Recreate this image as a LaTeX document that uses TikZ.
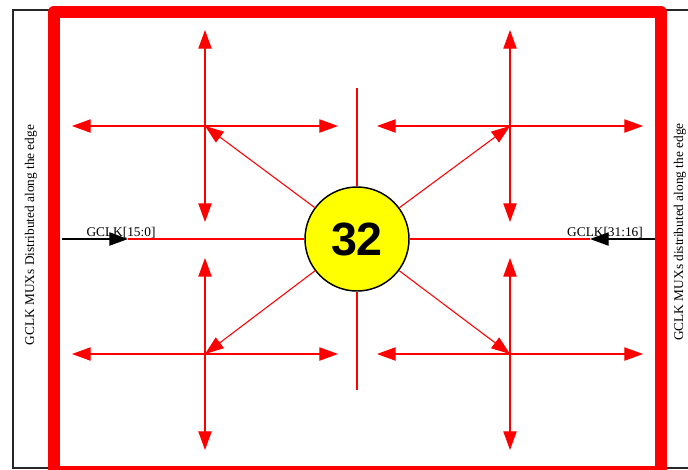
\documentclass[tikz,border=0pt]{standalone}
\usepackage{fontspec}
\setmainfont{Liberation Serif}
\newfontfamily\hubfont{Liberation Sans}
\usetikzlibrary{arrows.meta,calc}
\definecolor{signal}{RGB}{255,0,0}
\definecolor{hubfill}{RGB}{255,255,0}
\definecolor{ink}{RGB}{0,0,0}
\tikzset{
  >={Triangle[length=14pt,width=10pt]},
  frame/.style={draw=ink!85,line width=0.9pt},
  border/.style={draw=signal,line width=9pt,line join=round},
  wire/.style={draw=signal,line width=0.8pt},
  feed/.style={wire,->},
  spread/.style={wire,<->},
  clk/.style={->,draw=ink,line width=0.8pt},
  hub/.style={circle,draw=ink,fill=hubfill,line width=1.1pt,minimum size=78pt,
    inner sep=0pt,font=\hubfont\bfseries\fontsize{35}{35}\selectfont},
  tag/.style={font=\fontsize{10}{12}\selectfont,inner sep=0pt},
  side/.style={tag,rotate=90},
}
\begin{document}
\begin{tikzpicture}[x=0.75pt,y=-0.75pt]
  \useasboundingbox (0,0) rectangle (688,469);
  % page frame and chip edge
  \draw[frame] (688,10) -- (13,10) -- (13,468) -- (688,468);
  \draw[border] (53.5,12) rectangle (661,472);
  \node[side] (muxL) at (31,235) {GCLK MUXs Distributed along the edge};
  \node[side] (muxR) at (680,232) {GCLK MUXs distributed along the edge};
  % spine
  \node[hub] (hub) at (357,239) {32};
  \coordinate (spineN) at (357,88);
  \coordinate (spineS) at (357,390);
  \coordinate (inL) at (128,239);
  \coordinate (inR) at (590,239);
  \coordinate (srcL) at (62,239);
  \coordinate (srcR) at (655,239);
  \draw[wire] (hub.north) -- (spineN);
  \draw[wire] (hub.south) -- (spineS);
  \draw[wire] (hub.west) -- (inL);
  \draw[wire] (hub.east) -- (inR);
  % quadrant trees
  \foreach \q/\x/\y in {tl/205/126,tr/510/126,bl/205/354,br/510/354}{
    \coordinate (\q) at (\x,\y);
    \coordinate (\q-w) at ($(\q)+(-133,0)$);
    \coordinate (\q-e) at ($(\q)+(133,0)$);
    \coordinate (\q-n) at ($(\q)+(0,-96)$);
    \coordinate (\q-s) at ($(\q)+(0,96)$);
    \draw[spread] (\q-w) -- (\q-e);
    \draw[spread] (\q-n) -- (\q-s);
    \draw[feed] (hub) -- (\q);
  }
  % clock inputs
  \draw[clk] (srcL) -- (inL);
  \draw[clk] (srcR) -- (inR);
  \node[tag,anchor=base] (gclkL) at (121,236.5) {GCLK[15:0]};
  \node[tag,anchor=base] (gclkR) at (605,236.5) {GCLK[31:16]};
\end{tikzpicture}
\end{document}
